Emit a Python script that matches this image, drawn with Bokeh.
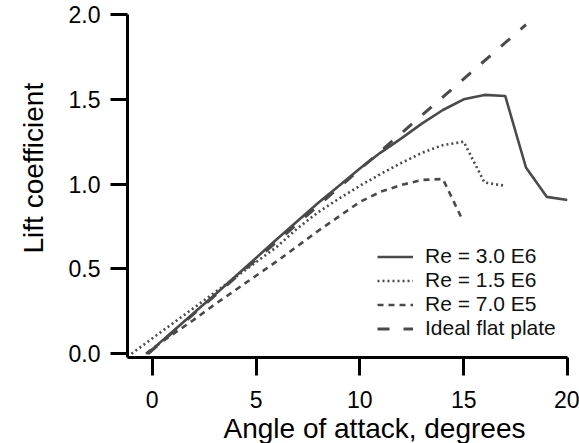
from bokeh.plotting import figure
from bokeh.models import Legend, LegendItem, Title, FixedTicker, Range1d
from bokeh.embed import file_html
from bokeh.resources import INLINE

# ---- data ----
alpha_re30 = [-0.25, 0, 1, 2, 3, 4, 5, 6, 7, 8, 9, 10, 11, 12, 13, 14, 15, 16, 17, 18, 19, 20]
cl_re30 = [0.0, 0.026, 0.133, 0.24, 0.347, 0.455, 0.565, 0.675, 0.783, 0.89, 0.99, 1.092,
           1.186, 1.27, 1.358, 1.437, 1.50, 1.526, 1.52, 1.098, 0.925, 0.906]

alpha_re15 = [-1, 0, 1, 2, 3, 4, 5, 6, 7, 8, 9, 10, 11, 12, 13, 14, 15, 16, 17]
cl_re15 = [0.0, 0.09, 0.18, 0.27, 0.36, 0.45, 0.54, 0.63, 0.74, 0.835, 0.915, 0.99,
           1.06, 1.125, 1.185, 1.23, 1.25, 1.01, 0.99]

alpha_re07 = [-0.3, 0, 1, 2, 3, 4, 5, 6, 7, 8, 9, 10, 11, 12, 13, 14, 14.9]
cl_re07 = [0.0, 0.03, 0.115, 0.20, 0.29, 0.375, 0.46, 0.545, 0.635, 0.725, 0.81, 0.895,
           0.955, 0.995, 1.025, 1.03, 0.80]

alpha_ideal = [-0.2, 18.0]
cl_ideal = [0.0, 1.94]

x_ticks = [0, 5, 10, 15, 20]
y_ticks = [0.0, 0.5, 1.0, 1.5, 2.0]
legend_labels = ["Re = 3.0 E6", "Re = 1.5 E6", "Re = 7.0 E5", "Ideal flat plate"]
x_title = "Angle of attack, degrees"
y_title = "Lift coefficient"

FONT = "Liberation Sans"
LC = "#4a4a4a"

p = figure(width=579, height=443, output_backend="svg", toolbar_location=None,
           x_range=Range1d(-1.19, 20.0), y_range=Range1d(-0.022, 2.0),
           min_border_left=127, min_border_right=12, min_border_top=14, min_border_bottom=86)
p.outline_line_color = None
p.grid.visible = False
p.background_fill_color = "white"
p.border_fill_color = "white"

r1 = p.line(alpha_re30, cl_re30, line_color=LC, line_width=2.6)
r2 = p.line(alpha_re15, cl_re15, line_color=LC, line_width=2.6, line_dash="2 3")
r3 = p.line(alpha_re07, cl_re07, line_color=LC, line_width=2.6, line_dash="6 5")
r4 = p.line(alpha_ideal, cl_ideal, line_color=LC, line_width=3, line_dash="12 14")

for ax in (p.xaxis[0], p.yaxis[0]):
    ax.axis_line_width = 3
    ax.axis_line_color = "black"
    ax.major_tick_line_width = 3
    ax.major_tick_line_color = "black"
    ax.major_tick_in = 0
    ax.minor_tick_line_color = None
    ax.major_label_text_font = FONT
    ax.major_label_text_font_size = "23px"
    ax.major_label_text_color = "black"

p.xaxis[0].ticker = FixedTicker(ticks=x_ticks)
p.yaxis[0].ticker = FixedTicker(ticks=y_ticks)
p.xaxis[0].major_tick_out = 18
p.yaxis[0].major_tick_out = 17
p.xaxis[0].major_label_standoff = 15
p.yaxis[0].major_label_standoff = 10
p.yaxis[0].major_label_overrides = {v: f"{v:.1f}" for v in y_ticks}
p.xaxis[0].major_label_overrides = {v: str(v) for v in x_ticks}

p.add_layout(Title(text=x_title, align="left", offset=96, standoff=0,
                   text_font=FONT, text_font_size="28px", text_font_style="normal",
                   text_color="black"), "below")
p.add_layout(Title(text=y_title, align="left", offset=104, standoff=29,
                   vertical_align="top",
                   text_font=FONT, text_font_size="28px", text_font_style="normal",
                   text_color="black"), "left")

legend = Legend(items=[LegendItem(label=legend_labels[0], renderers=[r1]),
                       LegendItem(label=legend_labels[1], renderers=[r2]),
                       LegendItem(label=legend_labels[2], renderers=[r3]),
                       LegendItem(label=legend_labels[3], renderers=[r4])],
                location=(250, 17), padding=0, margin=0, spacing=0,
                border_line_color=None, background_fill_alpha=0,
                glyph_width=36, glyph_height=23, label_height=23, label_standoff=12,
                label_text_font=FONT, label_text_font_size="21px", label_text_color="#111111")
p.add_layout(legend)

open("out.html", "w").write(file_html(p, INLINE))
